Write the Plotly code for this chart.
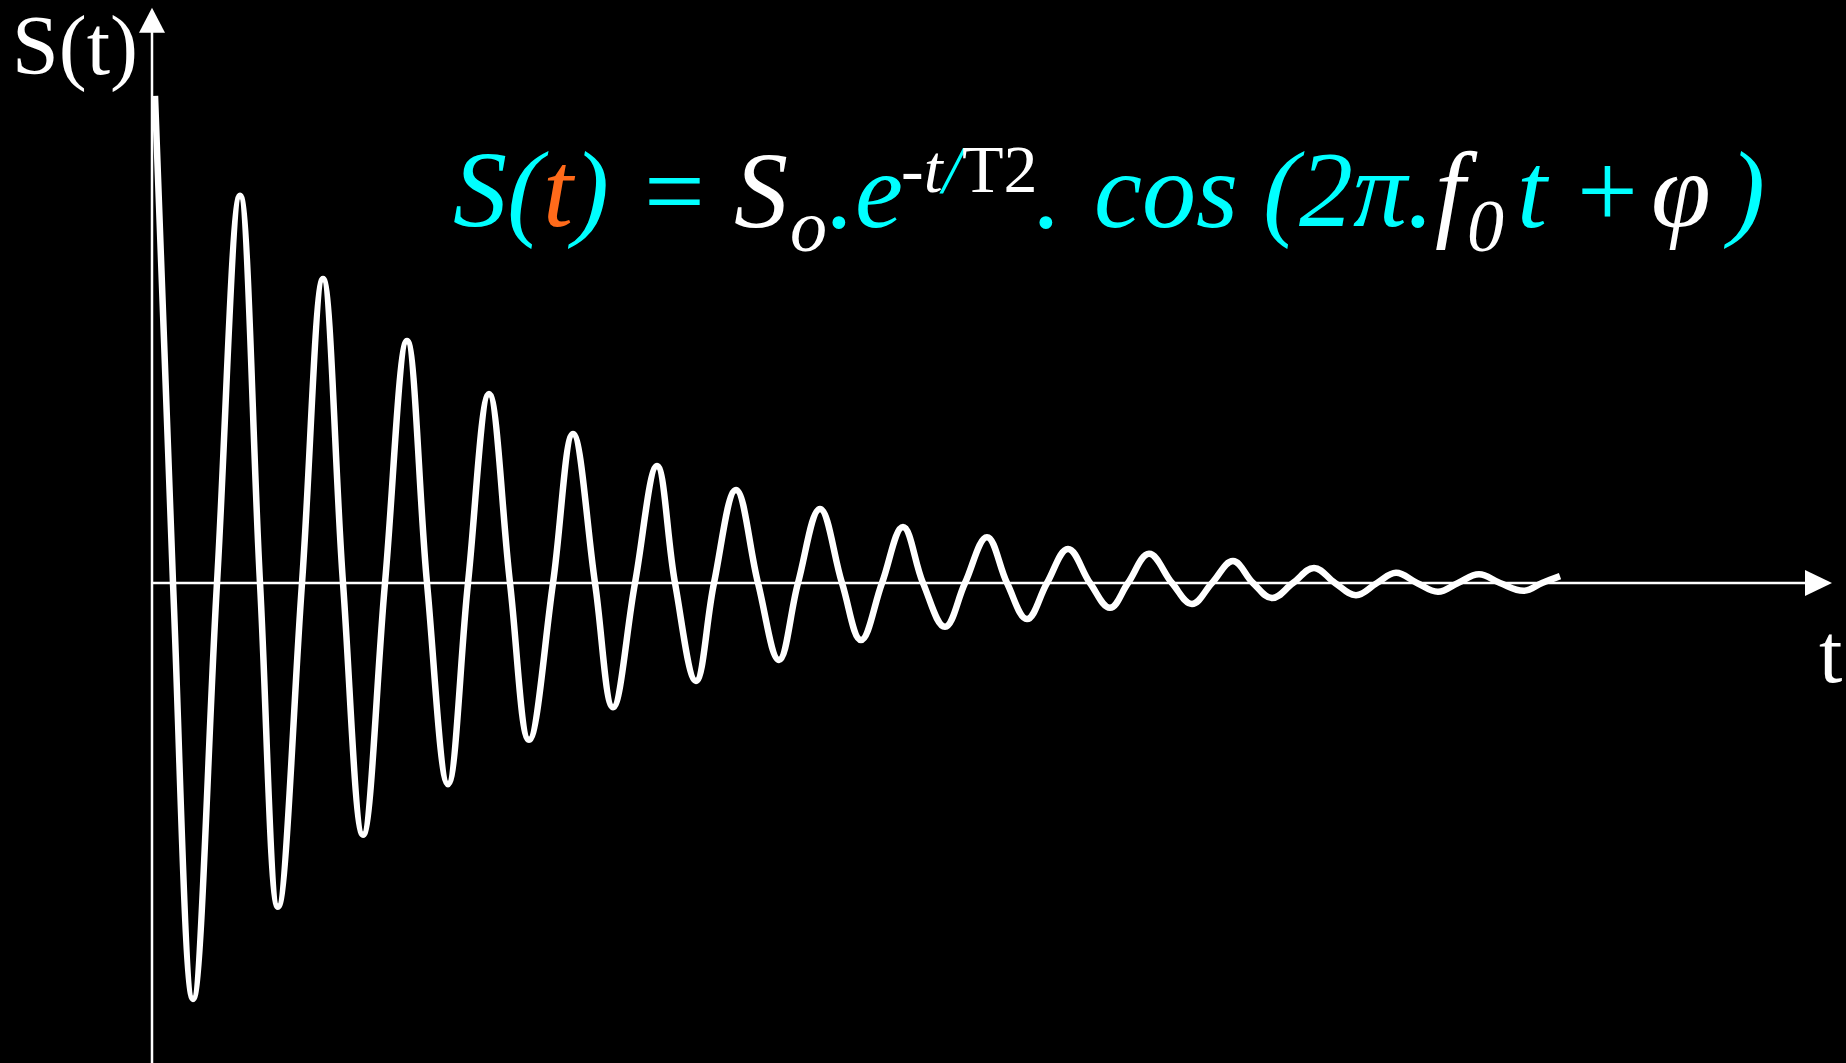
import plotly.graph_objects as go

W, H = 1846, 1063

# Free-induction-decay style signal: extrema and zero crossings
# (time in arbitrary units, amplitude normalised to the first maximum)
peak_t = [0.03, 0.88, 1.71, 2.55, 3.37, 4.21, 5.05, 5.84, 6.68, 7.51,
          8.35, 9.16, 9.97, 10.81, 11.62, 12.44, 13.27]
peak_s = [1.000, 0.795, 0.624, 0.497, 0.388, 0.306, 0.240, 0.191, 0.152, 0.115,
          0.094, 0.070, 0.060, 0.045, 0.031, 0.021, 0.018]
trough_t = [0.41, 1.26, 2.11, 2.96, 3.77, 4.61, 5.44, 6.27, 7.09, 7.93,
            8.75, 9.58, 10.40, 11.20, 12.04, 12.86, 13.72]
trough_s = [-0.854, -0.665, -0.517, -0.413, -0.322, -0.255, -0.201, -0.158, -0.117, -0.090,
            -0.074, -0.051, -0.043, -0.031, -0.025, -0.018, -0.016]
zero_t = [0.21, 0.65, 1.08, 1.50, 1.91, 2.33, 2.75, 3.16, 3.58, 4.01,
          4.43, 4.83, 5.23, 5.62, 6.06, 6.46, 6.90, 7.30, 7.71, 8.13,
          8.55, 8.95, 9.38, 9.76, 10.20, 10.60, 11.01, 11.41, 11.83, 12.25,
          12.65, 13.06, 13.48, 13.90]
end_t = [14.08]
end_s = [0.014]

# axis extents
t_range = [-1.52, 16.94]
s_range = [-0.9856, 1.1971]
t_axis_tip = 16.80
s_axis_tip = 1.181

CYAN = "#00ffff"
ORANGE = "#ff6a1a"
SERIF = "Liberation Serif, Times New Roman, serif"

pts = sorted(
    list(zip(peak_t, peak_s))
    + list(zip(trough_t, trough_s))
    + [(t, 0.0) for t in zero_t]
    + list(zip(end_t, end_s))
)
tt = [p[0] for p in pts]
ss = [p[1] for p in pts]

fig = go.Figure()
fig.add_trace(go.Scatter(
    x=tt, y=ss, mode="lines",
    line=dict(color="white", width=6.5, shape="spline", smoothing=1.15),
    hoverinfo="skip", showlegend=False,
))

shapes = [
    # time axis
    dict(type="line", xref="x", yref="y", x0=0, x1=t_axis_tip - 0.2, y0=0, y1=0,
         line=dict(color="white", width=2.5), layer="below"),
    dict(type="path", xref="x", yref="y", xsizemode="pixel", ysizemode="pixel",
         xanchor=t_axis_tip, yanchor=0, path="M0,0 L-27,13 L-27,-13 Z",
         fillcolor="white", line=dict(width=0), layer="below"),
    # signal axis
    dict(type="line", xref="x", yref="y", x0=0, x1=0, y0=s_range[0] - 0.1, y1=s_axis_tip - 0.04,
         line=dict(color="white", width=2.5), layer="below"),
    dict(type="path", xref="x", yref="y", xsizemode="pixel", ysizemode="pixel",
         xanchor=0, yanchor=s_axis_tip, path="M0,0 L-13,-25 L13,-25 Z",
         fillcolor="white", line=dict(width=0), layer="below"),
]


def label(text, left_px, baseline_px, size, color="white", italic=True):
    """Place a text piece by its left edge and baseline, in figure pixels."""
    bottom_px = baseline_px + 0.216 * size
    return dict(
        text=text, xref="paper", yref="paper",
        x=left_px / W, y=1 - bottom_px / H,
        xanchor="left", yanchor="bottom", showarrow=False, borderpad=0,
        font=dict(family=SERIF, size=size, color=color,
                  style="italic" if italic else "normal"),
    )


F = 108   # main formula size
FS = 74   # subscript size
FP = 68   # exponent size
BASE = 228
SUB_BASE = 252
SUP_BASE = 193

annotations = [
    label("S(t)", 11, 76, 84, italic=False),
    label("t", 1818, 683, 84, italic=False),
    # S(t) = So.e^(-t/T2). cos (2π.f0 t + φ)
    label(f"S(<span style='color:{ORANGE}'>t</span>)", 452, BASE, F, CYAN),
    label("=", 643, BASE, F, CYAN, italic=False),
    label("S", 733, BASE, F),
    label("o", 789, SUB_BASE, FS),
    label(".e", 827, BASE, F, CYAN),
    label(f"-t<span style='color:{CYAN}'>/</span>", 900, SUP_BASE, FP),
    label("T2", 961, SUP_BASE, FP, italic=False),
    label(".", 1034, BASE, F, CYAN),
    label("cos", 1093, BASE, F, CYAN),
    label("(2π.", 1262, BASE, F, CYAN),
    label("f", 1434, BASE, F),
    label("0", 1466, SUB_BASE, FS),
    label("t", 1516, BASE, F, CYAN),
    label("+", 1576, BASE, F, CYAN, italic=False),
    label("φ", 1650, BASE, F),
    label(")", 1722, BASE, F, CYAN),
]

fig.update_layout(
    width=W, height=H,
    margin=dict(l=0, r=0, t=0, b=0),
    paper_bgcolor="black", plot_bgcolor="black",
    xaxis=dict(range=t_range, visible=False, fixedrange=True),
    yaxis=dict(range=s_range, visible=False, fixedrange=True),
    shapes=shapes, annotations=annotations,
    showlegend=False,
)

fig.write_html("out.html", config={"displayModeBar": False})
